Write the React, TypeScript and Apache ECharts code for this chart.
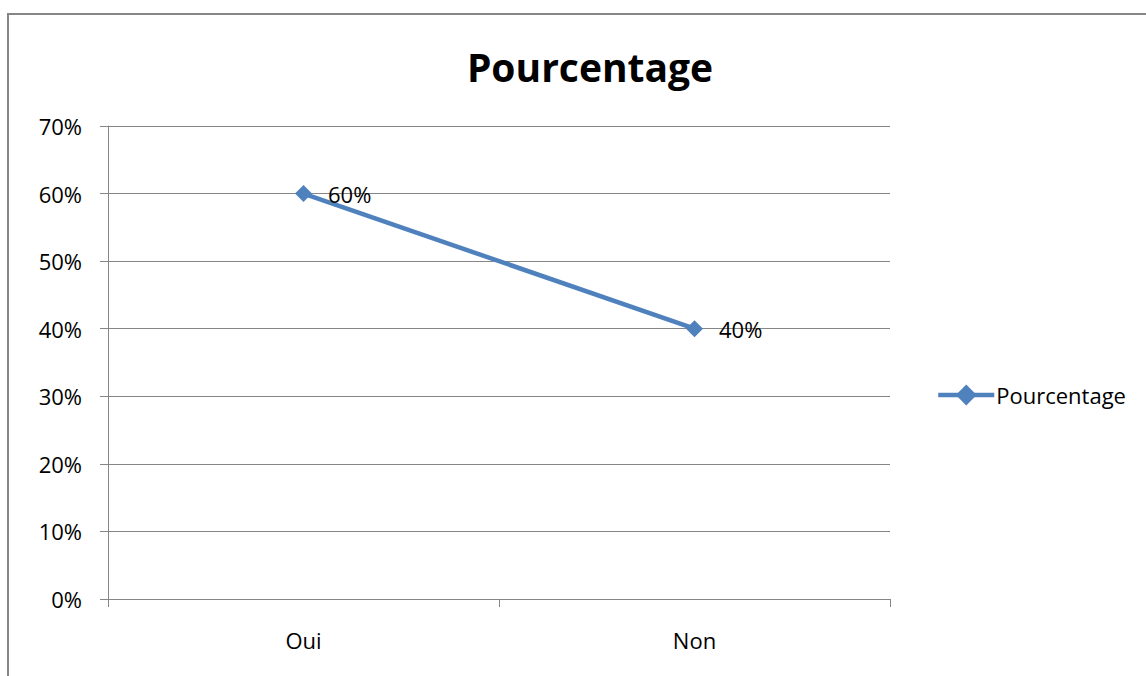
import React, { useEffect, useRef } from "react";
import * as echarts from "echarts";

const categories = ["Oui", "Non"];
const values = [60, 40];
const yTicks = [0, 10, 20, 30, 40, 50, 60, 70];
const seriesName = "Pourcentage";
const titleText = "Pourcentage";

const FONT = "'Open Sans', sans-serif";
const GRAY = "#868686";
const BLUE = "#4F81BD";

export default function App() {
  const ref = useRef<HTMLDivElement>(null);
  useEffect(() => {
    const chart = echarts.init(ref.current!, null, { renderer: "svg" });
    chart.setOption({
      animation: false,
      backgroundColor: "#fff",
      textStyle: { fontFamily: FONT },
      title: {
        text: titleText,
        left: 585,
        textAlign: "center",
        top: 42,
        textStyle: { fontFamily: FONT, fontSize: 39, fontWeight: "bold", color: "#000" },
      },
      legend: {
        data: [seriesName],
        left: 931,
        top: 379,
        itemWidth: 56,
        itemHeight: 26,
        itemGap: 4,
        lineStyle: { width: 4.5 },
        textStyle: { fontFamily: FONT, fontSize: 22, color: "#000", padding: [0, 0, 0, -3] },
      },
      grid: { left: 108, right: 256, top: 126, bottom: 77 },
      xAxis: {
        type: "category",
        data: categories,
        boundaryGap: true,
        axisLine: { lineStyle: { color: GRAY, width: 1 } },
        axisTick: { show: true, length: 8, lineStyle: { color: GRAY }, alignWithLabel: false },
        axisLabel: { margin: 30, fontFamily: FONT, fontSize: 22, color: "#000" },
        splitLine: { show: false },
      },
      yAxis: {
        type: "value",
        min: yTicks[0],
        max: yTicks[yTicks.length - 1],
        interval: 10,
        axisLine: { show: true, lineStyle: { color: GRAY, width: 1 } },
        axisTick: { show: true, length: 8, lineStyle: { color: GRAY } },
        axisLabel: { margin: 26, formatter: "{value}%", fontFamily: FONT, fontSize: 22, color: "#000" },
        splitLine: { show: true, lineStyle: { color: GRAY, width: 1 } },
      },
      graphic: [
        { type: "line", shape: { x1: 8, y1: 13, x2: 8, y2: 676 }, style: { stroke: GRAY, lineWidth: 2 } },
        { type: "line", shape: { x1: 7, y1: 14, x2: 1146, y2: 14 }, style: { stroke: GRAY, lineWidth: 2 } },
      ],
      series: [
        {
          name: seriesName,
          type: "line",
          data: values,
          symbol: "diamond",
          symbolSize: 17,
          lineStyle: { color: BLUE, width: 4.5 },
          itemStyle: { color: BLUE },
          label: {
            show: true,
            position: "right",
            distance: 16,
            formatter: "{c}%",
            fontFamily: FONT,
            fontSize: 22,
            color: "#000",
          },
        },
      ],
    });
    return () => chart.dispose();
  }, []);
  return (
    <div
      ref={ref}
      style={{ position: "fixed", left: 0, top: 0, width: 1146, height: 676 }}
    />
  );
}
